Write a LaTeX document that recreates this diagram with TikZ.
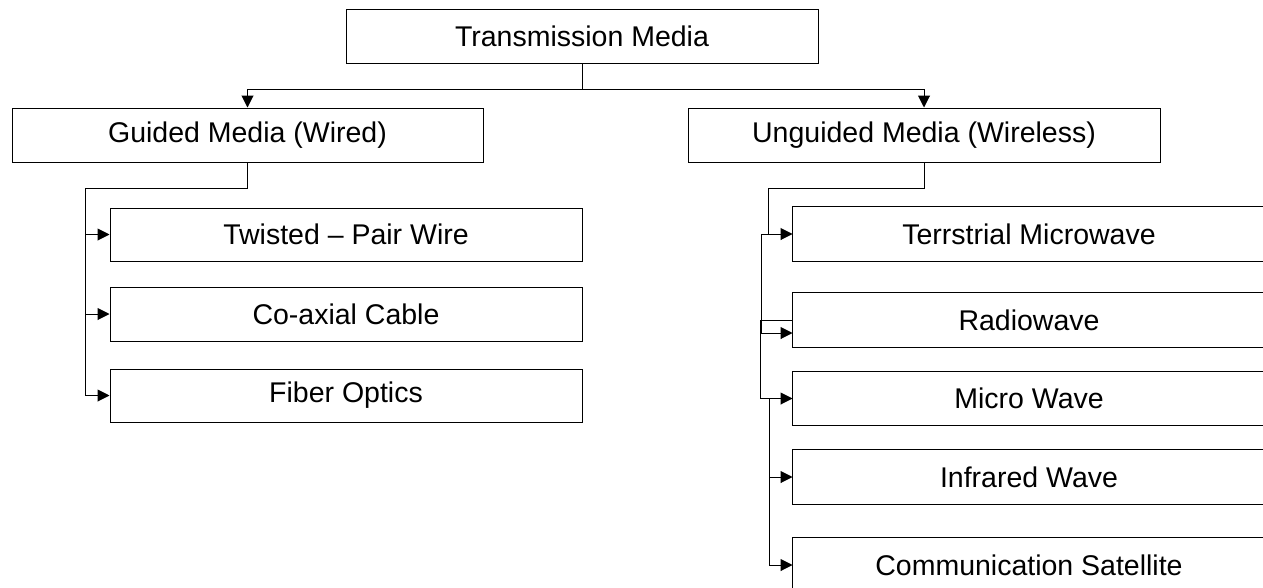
\documentclass[tikz,border=0pt]{standalone}
\usepackage{fontspec}
\setmainfont{Liberation Sans}
\usetikzlibrary{arrows.meta}
\begin{document}
\begin{tikzpicture}[x=1pt,y=-1pt,
  box/.style={draw=black,line width=1pt,minimum width=472pt,minimum height=54pt,inner sep=0pt,
    font=\fontsize{28.5}{34}\selectfont},
  rbox/.style={box,draw=none},
  conn/.style={draw=black,line width=1pt},
  arr/.style={conn,-{Triangle[length=12pt,width=12pt]}}]
\useasboundingbox (0,0) rectangle (1263,587);
% boxes
\node[box] (top) at (582,36) {Transmission Media};
\node[box,minimum width=471pt] (guided) at (247.5,135) {Guided Media (Wired)};
\node[box] (unguided) at (924,135) {Unguided Media (Wireless)};
\node[box,minimum height=53pt] (twisted) at (346,234.5) {Twisted – Pair Wire};
\node[box] (coax) at (346,314) {Co-axial Cable};
\node[box,minimum height=53pt] (fiber) at (346,395.5) {Fiber Optics};
\node[rbox] (terr) at (1029,234) {Terrstrial Microwave};
\node[rbox] (radio) at (1029,320) {Radiowave};
\node[rbox,minimum height=53pt] (micro) at (1029,398.5) {Micro Wave};
\node[rbox] (infra) at (1029,477) {Infrared Wave};
\node[rbox] (comm) at (1029,565) {Communication Satellite};
% right-hand boxes run past the picture's right edge
\foreach \n in {terr,radio,micro,infra,comm}
  \draw[conn] ([xshift=40pt]\n.north east) -- (\n.north west) -- (\n.south west) -- ([xshift=40pt]\n.south east);
% top level connectors
\coordinate (T) at (582,89);
\draw[conn] (top.south) -- (T);
\draw[arr] (T) -| (guided.north);
\draw[arr] (T) -| (unguided.north);
% guided branch
\coordinate (L) at (85,188);
\draw[conn] (guided.south) |- (L);
\draw[arr] (L) |- (twisted.west);
\draw[arr] (L) |- (coax.west);
\draw[arr] (L) |- (fiber.west);
% unguided branch
\coordinate (R1) at (768,188);
\coordinate (R2) at (761,234);
\coordinate (R3) at (760,320);
\coordinate (R4) at (769,398.5);
\draw[conn] (unguided.south) |- (R1);
\draw[arr] (R1) |- (terr.west);
\draw[conn] (R2) -- (R1 |- R2);
\draw[arr] (R2) |- ([yshift=-13pt]radio.west);
\draw[arr] (radio.west) -- (R3) |- (micro.west);
\draw[arr] (R4) |- (infra.west);
\draw[arr] (R4) |- (comm.west);
\end{tikzpicture}
\end{document}
